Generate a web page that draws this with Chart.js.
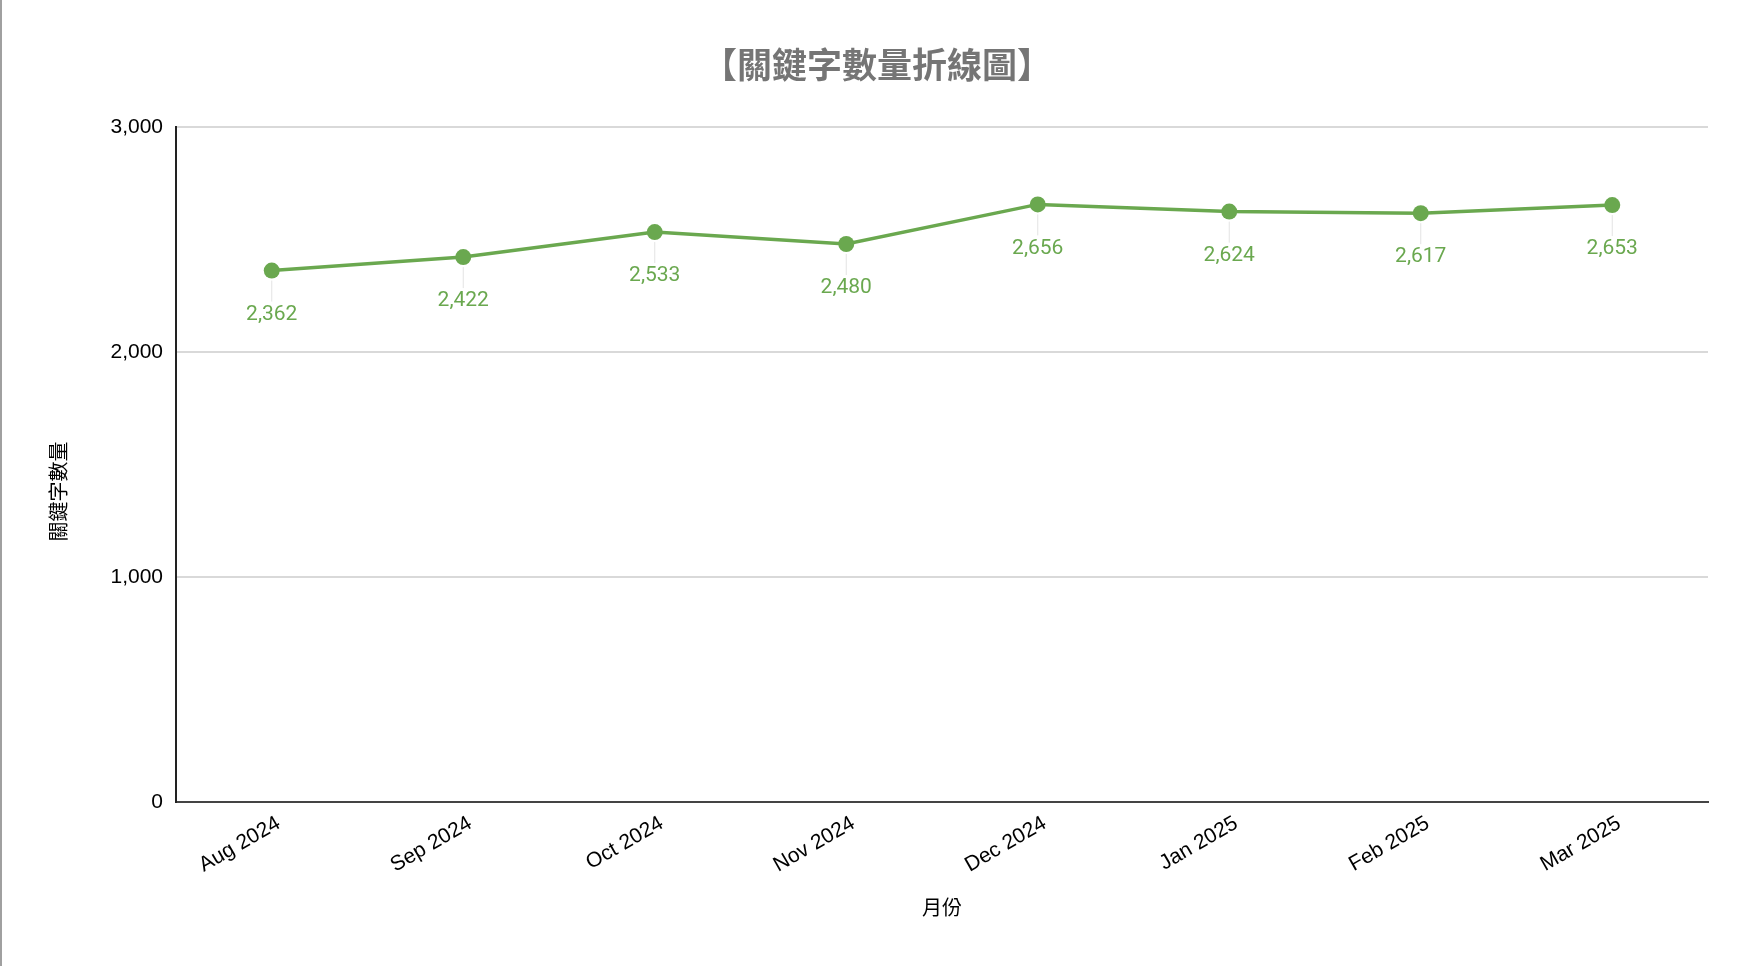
<!DOCTYPE html>
<html>
<head>
<meta charset="utf-8">
<script src="https://cdn.jsdelivr.net/npm/chart.js@4/dist/chart.umd.min.js"></script>
<style>
  html, body { margin: 0; padding: 0; background: #fff; }
  #wrap { position: relative; width: 1754px; height: 966px; }
  #wrap::before {
    content: ''; position: absolute; left: 0; top: 0; bottom: 0;
    width: 2px; background: #a0a0a0; z-index: 2;
  }
  canvas { display: block; }
</style>
</head>
<body>
<div id="wrap"><canvas id="kwChart" width="1754" height="966"></canvas></div>
<script>
// ── DATA ──
const months = ['Aug 2024', 'Sep 2024', 'Oct 2024', 'Nov 2024', 'Dec 2024', 'Jan 2025', 'Feb 2025', 'Mar 2025'];
const keywordCounts = [2362, 2422, 2533, 2480, 2656, 2624, 2617, 2653];
const yTicks = [0, 1000, 2000, 3000];
const chartTitle = '【關鍵字數量折線圖】';
const yTitle = '關鍵字數量';
const xTitle = '月份';

const GREEN = '#6aa84f';
const CJK = '"Noto Sans CJK TC", sans-serif';

// labels under each point, with a faint leader line
const pointLabels = {
    id: 'pointLabels',
    afterDatasetsDraw(chart) {
        const ctx = chart.ctx;
        const meta = chart.getDatasetMeta(0);
        ctx.save();
        meta.data.forEach((pt, i) => {
            ctx.strokeStyle = '#e3e3e3';
            ctx.lineWidth = 1;
            ctx.beginPath();
            ctx.moveTo(pt.x, pt.y + 10);
            ctx.lineTo(pt.x, pt.y + 31);
            ctx.stroke();

            ctx.fillStyle = GREEN;
            ctx.font = '21px Roboto';
            ctx.textAlign = 'center';
            ctx.textBaseline = 'middle';
            ctx.fillText(keywordCounts[i].toLocaleString('en-US'), pt.x, pt.y + 44);
        });
        ctx.restore();
    }
};

// page title (centred on the whole canvas) + y axis title
const titles = {
    id: 'titles',
    afterDraw(chart) {
        const ctx = chart.ctx;
        const area = chart.chartArea;
        ctx.save();
        ctx.fillStyle = '#757575';
        ctx.font = 'bold 35px ' + CJK;
        ctx.textAlign = 'center';
        ctx.textBaseline = 'middle';
        ctx.fillText(chartTitle, chart.width / 2, area.top / 2 + 1);

        ctx.translate(58, (area.top + area.bottom) / 2 + 27);
        ctx.rotate(-Math.PI / 2);
        ctx.fillStyle = '#000';
        ctx.font = '20px ' + CJK;
        ctx.fillText(yTitle, 0, 0);
        ctx.restore();
    }
};

new Chart(document.getElementById('kwChart'), {
    type: 'line',
    data: {
        labels: months,
        datasets: [{
            label: yTitle,
            data: keywordCounts,
            borderColor: GREEN,
            backgroundColor: GREEN,
            borderWidth: 3.5,
            pointRadius: 8,
            pointBorderWidth: 0,
            pointBackgroundColor: GREEN,
            tension: 0
        }]
    },
    options: {
        responsive: false,
        animation: false,
        devicePixelRatio: 1,
        locale: 'en-US',
        layout: { padding: { left: 0, right: 46, top: 127, bottom: 0 } },
        plugins: {
            legend: { display: false },
            tooltip: { enabled: false },
            title: { display: false }
        },
        scales: {
            x: {
                offset: true,
                grid: { display: false, drawTicks: false },
                border: { display: true, color: '#444', width: 2 },
                ticks: {
                    color: '#000',
                    font: { family: '"Liberation Sans", Arial, sans-serif', size: 21 },
                    minRotation: 30,
                    maxRotation: 30,
                    labelOffset: 7,
                    padding: 9
                },
                title: {
                    display: true,
                    text: xTitle,
                    color: '#000',
                    font: { family: CJK, size: 20, lineHeight: 1.2 },
                    padding: { top: 0, bottom: 47 }
                },
                afterFit(scale) { scale.height = 164; }
            },
            y: {
                min: yTicks[0],
                max: yTicks[yTicks.length - 1],
                afterBuildTicks(scale) { scale.ticks = yTicks.map(v => ({ value: v })); },
                grid: { color: '#d9d9d9', lineWidth: 2, drawTicks: false },
                border: { display: true, color: '#222', width: 2 },
                ticks: {
                    color: '#000',
                    font: { family: '"Liberation Sans", Arial, sans-serif', size: 21 },
                    padding: 13
                },
                title: { display: false },
                afterFit(scale) { scale.width = 176; }
            }
        }
    },
    plugins: [pointLabels, titles]
});
</script>
</body>
</html>
